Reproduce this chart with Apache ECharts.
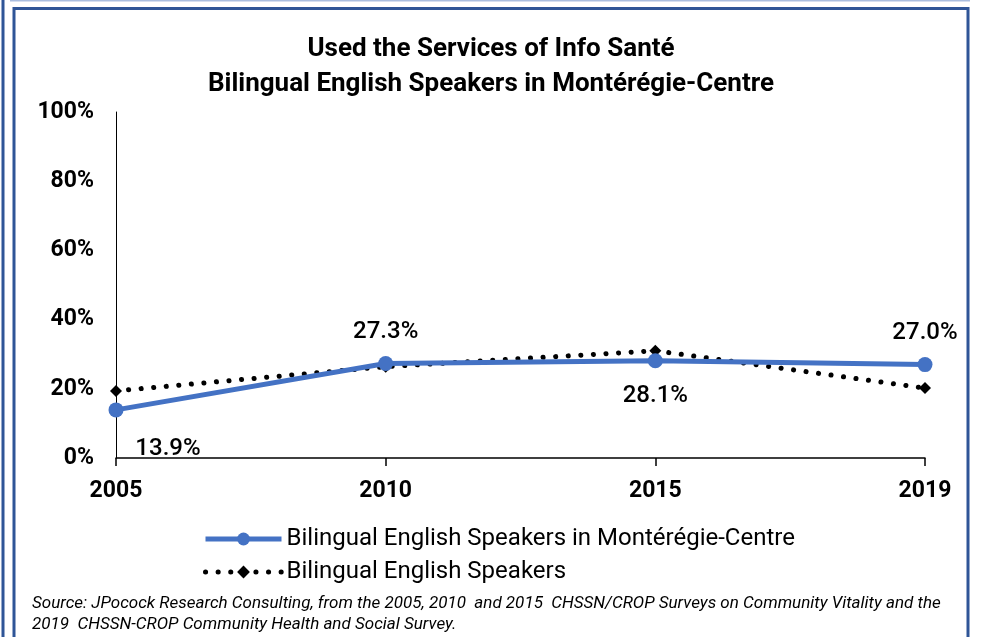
<!DOCTYPE html>
<html>
<head>
<meta charset="utf-8">
<script src="https://cdn.jsdelivr.net/npm/echarts@6/dist/echarts.min.js"></script>
<style>
html,body{margin:0;padding:0;background:#fff;}
#c{width:982px;height:637px;}
</style>
</head>
<body>
<div id="c"></div>
<script>
const categories = ['2005', '2010', '2015', '2019'];
const monteregieValues = [13.9, 27.3, 28.1, 27.0];
const bilingualValues = [19.4, 26.4, 31.0, 20.2];
const labelPositions = ['bottom', 'top', 'bottom', 'top'];
const titleLines = ['Used the Services of Info Santé', 'Bilingual English Speakers in Montérégie-Centre'];
const seriesNames = ['Bilingual English Speakers in Montérégie-Centre', 'Bilingual English Speakers'];
const sourceLines = [
  'Source: JPocock Research Consulting, from the 2005, 2010  and 2015  CHSSN/CROP Surveys on Community Vitality and the',
  '2019  CHSSN-CROP Community Health and Social Survey.'
];

const FONT = 'Roboto, sans-serif';
const chart = echarts.init(document.getElementById('c'), null, {renderer: 'canvas'});

const dotted = {color: '#000', width: 5, type: [0.1, 12.5], cap: 'round'};

const option = {
  backgroundColor: '#fff',
  animation: false,
  title: {
    text: titleLines.join('\n'),
    left: 'center',
    top: 27,
    textStyle: {fontFamily: FONT, fontSize: 26, fontWeight: 'bold', color: '#000', lineHeight: 35}
  },
  grid: {left: 116, right: 57, top: 112, bottom: 179, containLabel: false},
  xAxis: {
    type: 'category',
    data: categories,
    boundaryGap: false,
    axisLine: {lineStyle: {color: '#000', width: 1.5}},
    axisTick: {show: true, length: 8, lineStyle: {color: '#000', width: 1.5}},
    axisLabel: {fontFamily: FONT, fontSize: 23, fontWeight: 'bold', color: '#000', margin: 22}
  },
  yAxis: {
    type: 'value',
    min: 0, max: 100, interval: 20,
    axisLine: {show: true, lineStyle: {color: '#000', width: 1}},
    axisTick: {show: false},
    splitLine: {show: false},
    axisLabel: {fontFamily: FONT, fontSize: 23, fontWeight: 'bold', color: '#000', margin: 22, formatter: '{value}%'}
  },
  legend: {
    orient: 'vertical',
    left: 198,
    top: 522,
    itemWidth: 76,
    itemHeight: 16,
    itemGap: 9,
    textStyle: {fontFamily: FONT, fontSize: 24, color: '#000'},
    data: [
      {name: seriesNames[0], lineStyle: {color: '#4472C4', width: 5}},
      {name: seriesNames[1], lineStyle: dotted}
    ]
  },
  series: [
    {
      name: seriesNames[1],
      type: 'line',
      data: bilingualValues,
      symbol: 'diamond',
      symbolSize: 12,
      itemStyle: {color: '#000'},
      lineStyle: dotted,
      z: 2
    },
    {
      name: seriesNames[0],
      type: 'line',
      data: monteregieValues.map((v, i) => ({
        value: v,
        label: {
          position: labelPositions[i],
          distance: labelPositions[i] === 'top' ? 12 : 16,
          offset: i === 0 ? [52, 4] : [0, 0]
        }
      })),
      symbol: 'circle',
      symbolSize: 15,
      itemStyle: {color: '#4472C4'},
      lineStyle: {color: '#4472C4', width: 5},
      label: {
        show: true,
        fontFamily: FONT, fontSize: 24, fontWeight: 500, color: '#000',
        formatter: p => p.value.toFixed(1) + '%'
      },
      z: 3
    }
  ],
  graphic: [
    {type: 'line', shape: {x1: 10, y1: 0.5, x2: 970, y2: 0.5}, style: {stroke: '#a9bddf', lineWidth: 2}},
    {type: 'line', shape: {x1: 3, y1: 0, x2: 3, y2: 637}, style: {stroke: '#2f5597', lineWidth: 3}},
    {type: 'polyline', shape: {points: [[14, 637], [14, 8.5], [968, 8.5], [968, 637]]}, style: {stroke: '#2f5597', lineWidth: 3, fill: null}},
    {type: 'text', left: 32, top: 593, style: {text: sourceLines.join('\n'), fontFamily: FONT, fontSize: 17, fontStyle: 'italic', fill: '#000', lineHeight: 21}}
  ]
};
chart.setOption(option);
</script>
</body>
</html>
